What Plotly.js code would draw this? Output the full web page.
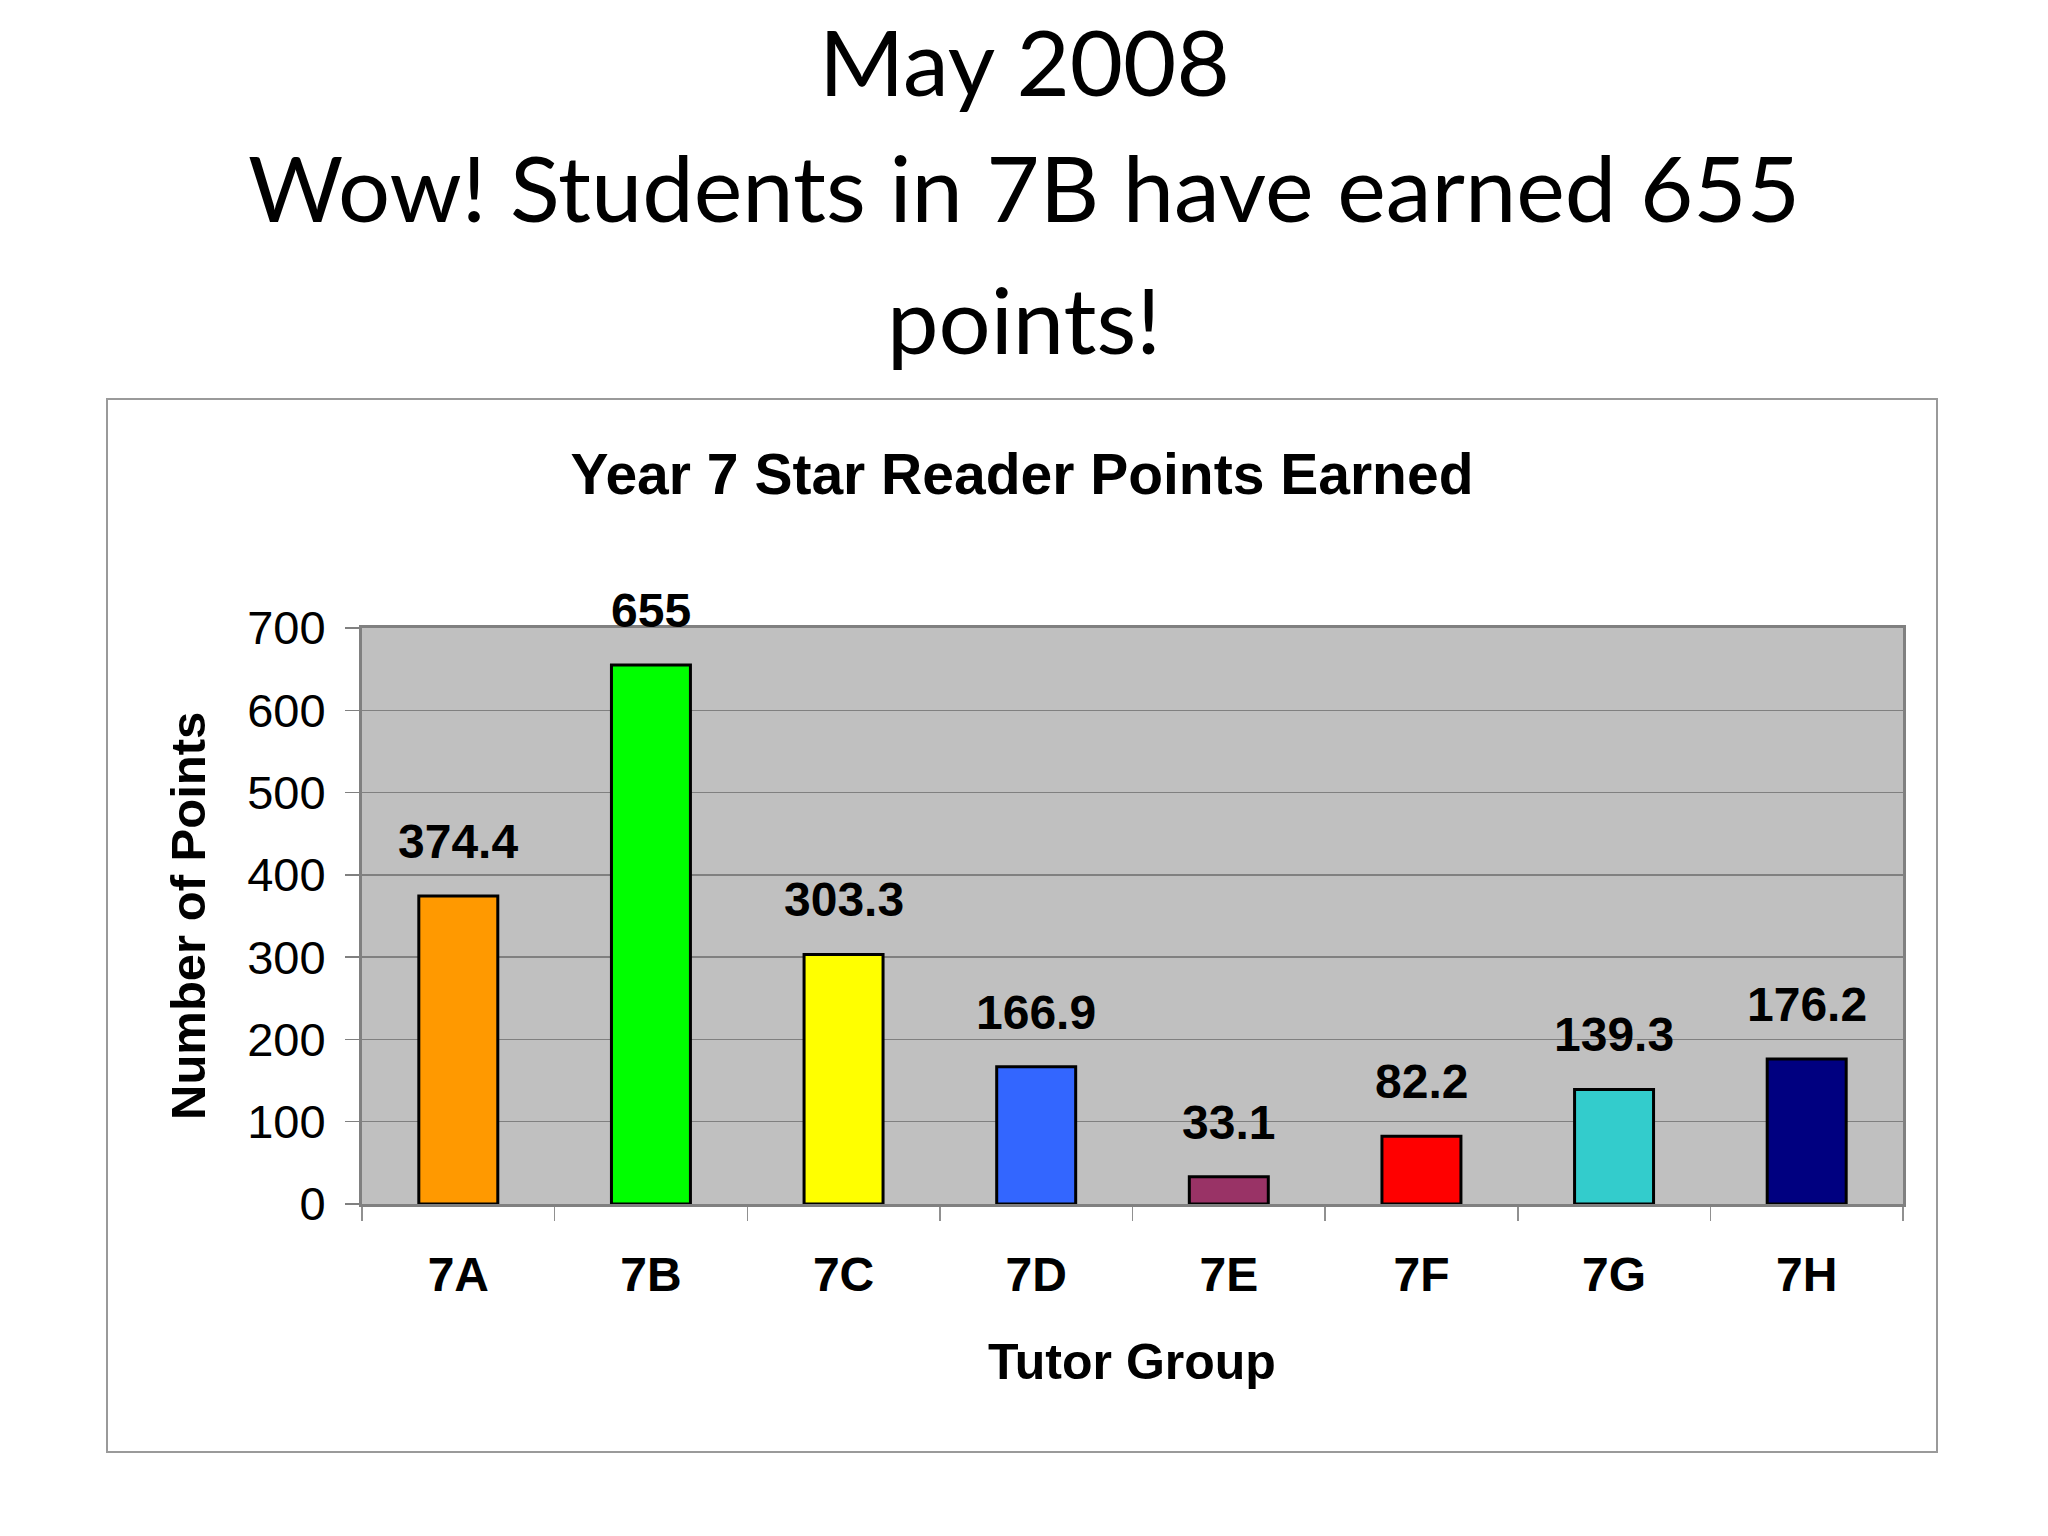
<!DOCTYPE html>
<html>
<head>
<meta charset="utf-8">
<script src="https://cdn.plot.ly/plotly-3.0.1.min.js"></script>
<style>html,body{margin:0;padding:0;background:#fff;}#chart{width:2048px;height:1536px;}</style>
</head>
<body>
<div id="chart"></div>
<script>
const categories = ["7A", "7B", "7C", "7D", "7E", "7F", "7G", "7H"];
const points = [374.4, 655, 303.3, 166.9, 33.1, 82.2, 139.3, 176.2];
const pointLabels = ["374.4", "655", "303.3", "166.9", "33.1", "82.2", "139.3", "176.2"];
const barColors = ["#FF9900", "#00FF00", "#FFFF00", "#3366FF", "#993366", "#FF0000", "#33CCCC", "#000080"];
const yTicks = [0, 100, 200, 300, 400, 500, 600, 700];
const slideTitleLines = ["May 2008", "Wow! Students in 7B have earned 655", "points!"];
const chartTitle = "Year 7 Star Reader Points Earned";
const xTitle = "Tutor Group";
const yTitle = "Number of Points";

const W = 2048, H = 1536;
const L = 362, R = 1903, T = 628, B = 1204;
const px = x => (x - L) / (R - L);
const py = y => (B - y) / (B - T);

const arial = "Liberation Sans, Arial, sans-serif";
const slideFont = "Lato, Open Sans, sans-serif";

const trace = {
  type: "bar",
  x: categories,
  y: points,
  marker: { color: barColors, line: { color: "#000000", width: 3 } },
  width: 0.41,
  hoverinfo: "x+y",
  showlegend: false
};

const annotations = [];
categories.forEach((c, i) => {
  annotations.push({
    x: c, y: points[i], xref: "x", yref: "y",
    text: "<b>" + pointLabels[i] + "</b>",
    showarrow: false, yanchor: "bottom", yshift: 26,
    font: { family: arial, size: 48, color: "#000" }
  });
});
const slideY = [60, 186, 318];
slideTitleLines.forEach((t, i) => {
  annotations.push({
    x: px(1024), y: py(slideY[i]), xref: "paper", yref: "paper",
    text: t, showarrow: false, xanchor: "center", yanchor: "middle",
    font: { family: slideFont, size: 92, color: "#000" }
  });
});
annotations.push({
  x: px(1132), y: py(1362), xref: "paper", yref: "paper",
  text: "<b>" + xTitle + "</b>", showarrow: false, xanchor: "center", yanchor: "middle",
  font: { family: arial, size: 50, color: "#000" }
});
annotations.push({
  x: px(188), y: py(916), xref: "paper", yref: "paper",
  text: "<b>" + yTitle + "</b>", showarrow: false, textangle: -90,
  xanchor: "center", yanchor: "middle",
  font: { family: arial, size: 49, color: "#000" }
});

const layout = {
  width: W, height: H,
  margin: { l: L, r: W - R, t: T, b: H - B, pad: 0 },
  paper_bgcolor: "#ffffff",
  plot_bgcolor: "#C0C0C0",
  title: {
    text: "<b>" + chartTitle + "</b>",
    x: px(1022), xref: "paper", xanchor: "center",
    y: 1 - 474 / H, yref: "container", yanchor: "middle",
    font: { family: arial, size: 57, color: "#000" }
  },
  xaxis: {
    type: "category",
    tickson: "boundaries",
    ticks: "outside", ticklen: 14, tickwidth: 1.5, tickcolor: "#909090",
    showline: true, linecolor: "#808080", linewidth: 3, mirror: true,
    showgrid: false,
    ticklabelstandoff: 26,
    tickfont: { family: arial, size: 48, color: "#000", weight: "bold" }
  },
  yaxis: {
    range: [0, 700],
    tickvals: yTicks,
    ticktext: yTicks.map(String),
    ticks: "outside", ticklen: 14, tickwidth: 1.5, tickcolor: "#808080",
    showline: true, linecolor: "#808080", linewidth: 3, mirror: true,
    showgrid: true, gridcolor: "#808080", gridwidth: 1.5,
    zeroline: false,
    ticklabelstandoff: 10,
    tickfont: { family: arial, size: 47, color: "#000" }
  },
  shapes: [{
    type: "rect", xref: "paper", yref: "paper", layer: "below",
    x0: px(107), x1: px(1937), y0: py(1452), y1: py(399),
    line: { color: "#9a9a9a", width: 2 }, fillcolor: "rgba(0,0,0,0)"
  }],
  annotations: annotations,
  bargap: 0.58
};

Plotly.newPlot("chart", [trace], layout, { displayModeBar: false, staticPlot: true });
</script>
</body>
</html>
